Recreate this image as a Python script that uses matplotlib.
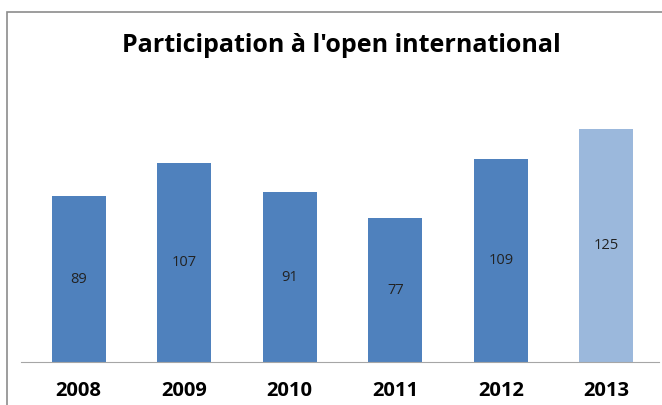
import matplotlib.pyplot as plt
from matplotlib.patches import Rectangle

years = ["2008", "2009", "2010", "2011", "2012", "2013"]
participants = [89, 107, 91, 77, 109, 125]
colors = ["#4F81BD"] * 5 + ["#9BB8DC"]

W, H = 662, 405
fig = plt.figure(figsize=(W / 100, H / 100), dpi=100)

# chart frame (cut off on the right and bottom like the screenshot)
fig.patches.append(Rectangle((7 / W, -0.05), 1.0, 1.05 - 12 / H, transform=fig.transFigure,
                             fill=False, edgecolor="#8C8C8C", linewidth=1.2))

ax = fig.add_axes([26 / W, (H - 362) / H, (659 - 26) / W, (362 - 101) / H])
x = range(len(years))
bars = ax.bar(x, participants, width=0.51, color=colors, edgecolor="none")
ax.set_xlim(-0.5, len(years) - 0.5)
ax.set_ylim(0, 140)

for b, v in zip(bars, participants):
    ax.text(b.get_x() + b.get_width() / 2, v / 2, str(v), ha="center", va="center",
            fontsize=10.5, color="#222222", family="Open Sans")

ax.set_xticks(list(x))
ax.set_xticklabels(years, fontsize=14.5, fontweight="bold", family="Open Sans")
ax.tick_params(axis="x", length=0, pad=14)
ax.set_yticks([])
for s in ["top", "right", "left"]:
    ax.spines[s].set_visible(False)
ax.spines["bottom"].set_color("#A6A6A6")
ax.spines["bottom"].set_bounds(-0.55, len(years) - 0.5)

fig.text(341 / W, 1 - 45 / H, "Participation à l'open international", ha="center", va="center",
         fontsize=18, fontweight="bold", family="Open Sans")

fig.savefig("out.png", dpi=100)
